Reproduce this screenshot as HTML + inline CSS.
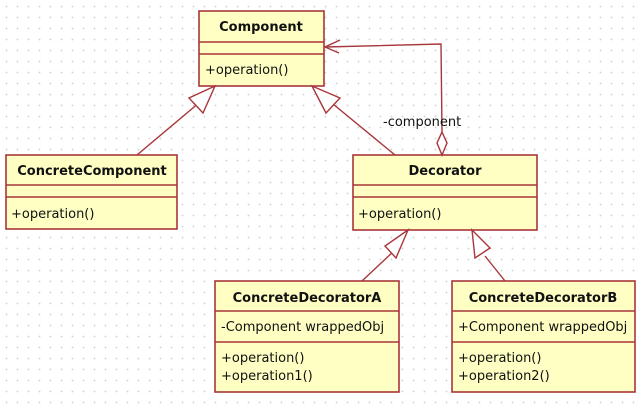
<!DOCTYPE html>
<html><head><style>
html,body{margin:0;padding:0;background:#fff;}
body{width:643px;height:404px;overflow:hidden;position:relative;
background-image:radial-gradient(circle,#d4d4d4 0.7px,transparent 1.1px);background-size:11px 11px;background-position:1px 1px;}
svg{position:absolute;left:0;top:0}
text{font-family:"DejaVu Sans","Liberation Sans",sans-serif;font-size:13px;fill:#111}
.b{font-weight:bold}
</style></head><body>
<svg width="643" height="404" viewBox="0 0 643 404">
<g fill="#ffffc4" stroke="#a8363a" stroke-width="1.6">
<rect x="199" y="11" width="125" height="75"/>
<line x1="199" y1="42" x2="324" y2="42"/><line x1="199" y1="54" x2="324" y2="54"/>
<rect x="6" y="155" width="171" height="74"/>
<line x1="6" y1="185" x2="177" y2="185"/><line x1="6" y1="197" x2="177" y2="197"/>
<rect x="353" y="155" width="184" height="75"/>
<line x1="353" y1="185" x2="537" y2="185"/><line x1="353" y1="197" x2="537" y2="197"/>
<rect x="215" y="281" width="184" height="111"/>
<line x1="215" y1="311" x2="399" y2="311"/><line x1="215" y1="342" x2="399" y2="342"/>
<rect x="452" y="281" width="183" height="111"/>
<line x1="452" y1="311" x2="635" y2="311"/><line x1="452" y1="342" x2="635" y2="342"/>
</g>
<g fill="none" stroke="#a8363a" stroke-width="1.4">
<line x1="137" y1="155" x2="200" y2="102"/>
<polygon points="215,86 189,98 203,113" fill="#fff"/>
<line x1="395" y1="155" x2="333" y2="104"/>
<polygon points="312,86 326,113 340,98" fill="#fff"/>
<line x1="362" y1="281" x2="395" y2="250"/>
<polygon points="408,230 385,246 396,258" fill="#fff"/>
<line x1="505" y1="281" x2="485" y2="256"/>
<polygon points="472,230 475,258 490,248" fill="#fff"/>
<polyline points="325,47 441,44 442,132"/>
<polyline points="340,40 325,47 339,53"/>
<polygon points="442,132 447,143 442,155 437,143" fill="#fff"/>
</g>
<text x="261" y="31" text-anchor="middle" class="b">Component</text>
<text x="205" y="74">+operation()</text>
<text x="92" y="175" text-anchor="middle" class="b">ConcreteComponent</text>
<text x="11" y="218">+operation()</text>
<text x="445" y="175" text-anchor="middle" class="b">Decorator</text>
<text x="358" y="218">+operation()</text>
<text x="307" y="302" text-anchor="middle" class="b">ConcreteDecoratorA</text>
<text x="221" y="331">-Component wrappedObj</text>
<text x="221" y="362">+operation()</text>
<text x="221" y="380">+operation1()</text>
<text x="543" y="302" text-anchor="middle" class="b">ConcreteDecoratorB</text>
<text x="458" y="331">+Component wrappedObj</text>
<text x="458" y="362">+operation()</text>
<text x="458" y="380">+operation2()</text>
<text x="383" y="126">-component</text>
</svg>
</body></html>
